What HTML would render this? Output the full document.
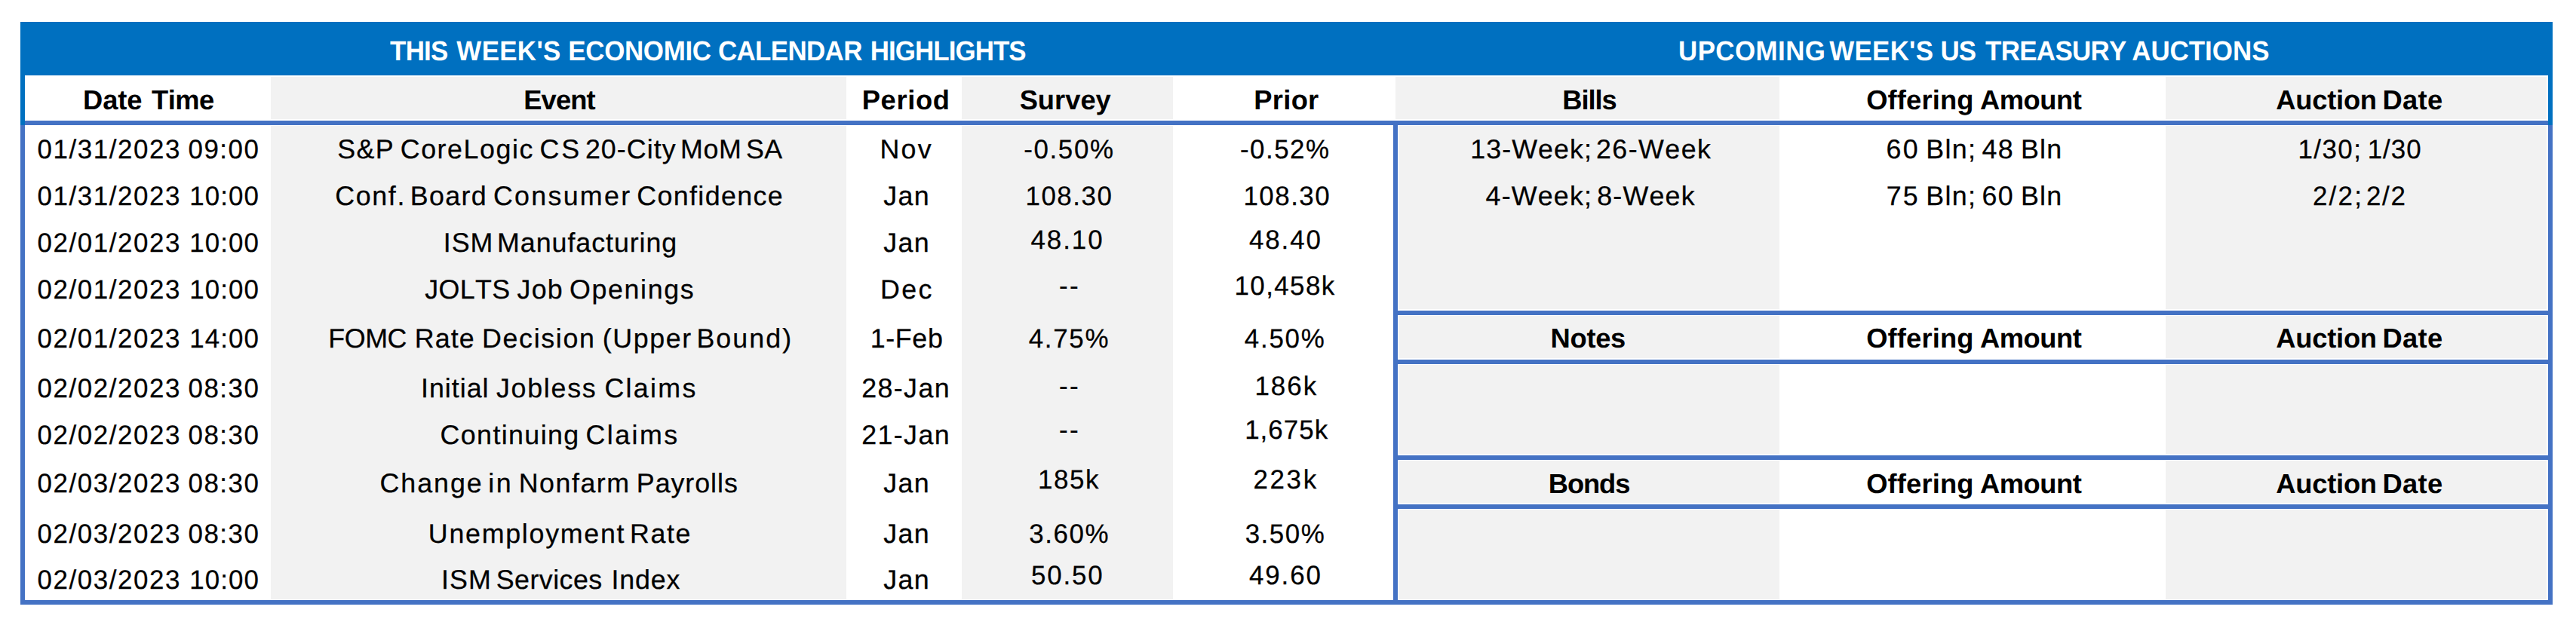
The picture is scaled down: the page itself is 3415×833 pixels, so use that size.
<!DOCTYPE html>
<html lang="en"><head><meta charset="utf-8"><title>Economic Calendar</title>
<style>
html,body{margin:0;padding:0;background:#fff;}
body{width:3415px;height:833px;position:relative;overflow:hidden;font-family:"Liberation Sans",Arial,sans-serif;font-kerning:none;font-variant-ligatures:none;text-rendering:geometricPrecision;}
.r{position:absolute;}
.c{position:absolute;left:0;top:0;width:0;height:40px;white-space:pre;font-size:35.80px;line-height:40px;color:#000;-webkit-text-stroke:0.25px #000;}
.c span{position:absolute;top:0;left:0;}
.b{font-weight:bold;-webkit-text-stroke:0;font-size:36.30px;}
.w{color:#fff;}
.u{font-size:34.90px;}
.u span{transform:scaleY(1.015);transform-origin:0 31px;}
.b.u span{transform:scaleY(1.050);}
</style></head><body>
<div class="r" style="left:359px;top:102px;width:763px;height:56px;background:#F2F2F2"></div>
<div class="r" style="left:359px;top:167px;width:763px;height:628px;background:#F2F2F2"></div>
<div class="r" style="left:1275px;top:102px;width:280px;height:56px;background:#F2F2F2"></div>
<div class="r" style="left:1275px;top:167px;width:280px;height:628px;background:#F2F2F2"></div>
<div class="r" style="left:1850px;top:102px;width:509px;height:56px;background:#F2F2F2"></div>
<div class="r" style="left:1854px;top:167px;width:505px;height:243px;background:#F2F2F2"></div>
<div class="r" style="left:1854px;top:419px;width:505px;height:56px;background:#F2F2F2"></div>
<div class="r" style="left:1854px;top:484px;width:505px;height:118px;background:#F2F2F2"></div>
<div class="r" style="left:1854px;top:611px;width:505px;height:56px;background:#F2F2F2"></div>
<div class="r" style="left:1854px;top:676px;width:505px;height:119px;background:#F2F2F2"></div>
<div class="r" style="left:2871px;top:102px;width:505px;height:56px;background:#F2F2F2"></div>
<div class="r" style="left:2871px;top:167px;width:505px;height:243px;background:#F2F2F2"></div>
<div class="r" style="left:2871px;top:419px;width:505px;height:56px;background:#F2F2F2"></div>
<div class="r" style="left:2871px;top:484px;width:505px;height:118px;background:#F2F2F2"></div>
<div class="r" style="left:2871px;top:611px;width:505px;height:56px;background:#F2F2F2"></div>
<div class="r" style="left:2871px;top:676px;width:505px;height:119px;background:#F2F2F2"></div>
<div class="r" style="left:27px;top:29px;width:3357px;height:71px;background:#0070C0"></div>
<div class="r" style="left:27px;top:100px;width:6px;height:66px;background:#0070C0"></div>
<div class="r" style="left:3378px;top:100px;width:6px;height:66px;background:#0070C0"></div>
<div class="r" style="left:27px;top:166px;width:6px;height:636px;background:#4472C4"></div>
<div class="r" style="left:3378px;top:166px;width:6px;height:636px;background:#4472C4"></div>
<div class="r" style="left:33px;top:160px;width:3345px;height:6px;background:#4472C4"></div>
<div class="r" style="left:27px;top:796px;width:3357px;height:6px;background:#4472C4"></div>
<div class="r" style="left:1847px;top:166px;width:6px;height:630px;background:#4472C4"></div>
<div class="r" style="left:1853px;top:412px;width:1525px;height:6px;background:#4472C4"></div>
<div class="r" style="left:1853px;top:477px;width:1525px;height:6px;background:#4472C4"></div>
<div class="r" style="left:1853px;top:604px;width:1525px;height:6px;background:#4472C4"></div>
<div class="r" style="left:1853px;top:669px;width:1525px;height:6px;background:#4472C4"></div>
<div class="c b w u" style="top:49px"><span style="left:517.11px;letter-spacing:-0.780px">THIS</span> <span style="left:605.37px;letter-spacing:0.344px">WEEK'S</span> <span style="left:753.37px;letter-spacing:-0.323px">ECONOMIC</span> <span style="left:951.97px;letter-spacing:-0.624px">CALENDAR</span> <span style="left:1153.77px;letter-spacing:-0.924px">HIGHLIGHTS</span></div>
<div class="c b w u" style="top:49px"><span style="left:2225.00px;letter-spacing:0.444px">UPCOMING</span> <span style="left:2425.37px;letter-spacing:0.264px">WEEK'S</span> <span style="left:2572.50px;letter-spacing:-0.822px">US</span> <span style="left:2632.11px;letter-spacing:-0.673px">TREASURY</span> <span style="left:2826.23px;letter-spacing:-0.003px">AUCTIONS</span></div>
<div class="c b" style="top:113px"><span style="left:109.97px;letter-spacing:-0.037px">Date</span> <span style="left:200.99px;letter-spacing:-0.492px">Time</span></div>
<div class="c b" style="top:113px"><span style="left:694.27px;letter-spacing:-0.870px">Event</span></div>
<div class="c b" style="top:113px"><span style="left:1142.67px;letter-spacing:0.672px">Period</span></div>
<div class="c b" style="top:113px"><span style="left:1351.65px;letter-spacing:0.013px">Survey</span></div>
<div class="c b" style="top:113px"><span style="left:1662.37px;letter-spacing:0.289px">Prior</span></div>
<div class="c b" style="top:113px"><span style="left:2071.27px;letter-spacing:-1.085px">Bills</span></div>
<div class="c b" style="top:113px"><span style="left:2474.21px;letter-spacing:0.151px">Offering</span> <span style="left:2624.90px;letter-spacing:-0.411px">Amount</span></div>
<div class="c b" style="top:113px"><span style="left:3017.20px;letter-spacing:-0.207px">Auction</span> <span style="left:3158.57px;letter-spacing:0.296px">Date</span></div>
<div class="c b" style="top:429px"><span style="left:2055.57px;letter-spacing:-0.284px">Notes</span></div>
<div class="c b" style="top:429px"><span style="left:2474.21px;letter-spacing:0.151px">Offering</span> <span style="left:2624.90px;letter-spacing:-0.411px">Amount</span></div>
<div class="c b" style="top:429px"><span style="left:3017.20px;letter-spacing:-0.207px">Auction</span> <span style="left:3158.57px;letter-spacing:0.296px">Date</span></div>
<div class="c b" style="top:622px"><span style="left:2052.87px;letter-spacing:-1.102px">Bonds</span></div>
<div class="c b" style="top:622px"><span style="left:2474.21px;letter-spacing:0.151px">Offering</span> <span style="left:2624.90px;letter-spacing:-0.411px">Amount</span></div>
<div class="c b" style="top:622px"><span style="left:3017.20px;letter-spacing:-0.207px">Auction</span> <span style="left:3158.57px;letter-spacing:0.296px">Date</span></div>
<div class="c u" style="top:179px"><span style="left:49.54px;letter-spacing:1.592px">01/31/2023</span> <span style="left:249.54px;letter-spacing:1.498px">09:00</span></div>
<div class="c u" style="top:241px"><span style="left:49.54px;letter-spacing:1.592px">01/31/2023</span> <span style="left:251.24px;letter-spacing:1.072px">10:00</span></div>
<div class="c u" style="top:303px"><span style="left:49.54px;letter-spacing:1.592px">02/01/2023</span> <span style="left:251.24px;letter-spacing:1.072px">10:00</span></div>
<div class="c u" style="top:365px"><span style="left:49.54px;letter-spacing:1.592px">02/01/2023</span> <span style="left:251.24px;letter-spacing:1.072px">10:00</span></div>
<div class="c u" style="top:430px"><span style="left:49.54px;letter-spacing:1.592px">02/01/2023</span> <span style="left:251.24px;letter-spacing:1.072px">14:00</span></div>
<div class="c u" style="top:496px"><span style="left:49.54px;letter-spacing:1.592px">02/02/2023</span> <span style="left:249.54px;letter-spacing:1.498px">08:30</span></div>
<div class="c u" style="top:558px"><span style="left:49.54px;letter-spacing:1.592px">02/02/2023</span> <span style="left:249.54px;letter-spacing:1.498px">08:30</span></div>
<div class="c u" style="top:622px"><span style="left:49.54px;letter-spacing:1.592px">02/03/2023</span> <span style="left:249.54px;letter-spacing:1.498px">08:30</span></div>
<div class="c u" style="top:689px"><span style="left:49.54px;letter-spacing:1.592px">02/03/2023</span> <span style="left:249.54px;letter-spacing:1.498px">08:30</span></div>
<div class="c u" style="top:750px"><span style="left:49.54px;letter-spacing:1.592px">02/03/2023</span> <span style="left:251.24px;letter-spacing:1.072px">10:00</span></div>
<div class="c" style="top:178px"><span style="left:447.37px;letter-spacing:1.289px">S&amp;P</span> <span style="left:530.78px;letter-spacing:1.548px">CoreLogic</span> <span style="left:715.58px;letter-spacing:2.829px">CS</span> <span style="left:775.90px;letter-spacing:1.062px">20-City</span> <span style="left:902.06px;letter-spacing:0.660px">MoM</span> <span style="left:989.07px;letter-spacing:0.239px">SA</span></div>
<div class="c" style="top:240px"><span style="left:444.28px;letter-spacing:1.630px">Conf.</span> <span style="left:543.86px;letter-spacing:1.328px">Board</span> <span style="left:653.98px;letter-spacing:2.282px">Consumer</span> <span style="left:844.18px;letter-spacing:1.388px">Confidence</span></div>
<div class="c" style="top:302px"><span style="left:587.70px;letter-spacing:1.047px">ISM</span> <span style="left:659.06px;letter-spacing:0.949px">Manufacturing</span></div>
<div class="c" style="top:364px"><span style="left:563.34px;letter-spacing:0.375px">JOLTS</span> <span style="left:685.54px;letter-spacing:1.221px">Job</span> <span style="left:755.10px;letter-spacing:1.605px">Openings</span></div>
<div class="c" style="top:429px"><span style="left:435.36px;letter-spacing:-0.463px">FOMC</span> <span style="left:549.76px;letter-spacing:1.136px">Rate</span> <span style="left:638.96px;letter-spacing:1.681px">Decision</span> <span style="left:798.78px;letter-spacing:1.617px">(Upper</span> <span style="left:923.46px;letter-spacing:2.043px">Bound)</span></div>
<div class="c" style="top:495px"><span style="left:558.00px;letter-spacing:0.987px">Initial</span> <span style="left:657.94px;letter-spacing:1.728px">Jobless</span> <span style="left:801.38px;letter-spacing:2.304px">Claims</span></div>
<div class="c" style="top:557px"><span style="left:583.58px;letter-spacing:1.384px">Continuing</span> <span style="left:776.38px;letter-spacing:2.484px">Claims</span></div>
<div class="c" style="top:621px"><span style="left:503.48px;letter-spacing:1.961px">Change</span> <span style="left:647.31px;letter-spacing:2.556px">in</span> <span style="left:687.76px;letter-spacing:1.520px">Nonfarm</span> <span style="left:843.86px;letter-spacing:0.943px">Payrolls</span></div>
<div class="c" style="top:688px"><span style="left:567.84px;letter-spacing:1.724px">Unemployment</span> <span style="left:835.06px;letter-spacing:1.569px">Rate</span></div>
<div class="c" style="top:749px"><span style="left:585.00px;letter-spacing:1.047px">ISM</span> <span style="left:657.67px;letter-spacing:0.478px">Services</span> <span style="left:810.60px;letter-spacing:0.778px">Index</span></div>
<div class="c" style="top:178px"><span style="left:1166.56px;letter-spacing:2.198px">Nov</span></div>
<div class="c" style="top:240px"><span style="left:1171.14px;letter-spacing:1.432px">Jan</span></div>
<div class="c" style="top:302px"><span style="left:1171.14px;letter-spacing:1.432px">Jan</span></div>
<div class="c" style="top:364px"><span style="left:1167.06px;letter-spacing:2.358px">Dec</span></div>
<div class="c" style="top:429px"><span style="left:1153.77px;letter-spacing:0.627px">1-Feb</span></div>
<div class="c" style="top:495px"><span style="left:1142.20px;letter-spacing:1.393px">28-Jan</span></div>
<div class="c" style="top:557px"><span style="left:1142.20px;letter-spacing:1.393px">21-Jan</span></div>
<div class="c" style="top:621px"><span style="left:1171.14px;letter-spacing:1.432px">Jan</span></div>
<div class="c" style="top:688px"><span style="left:1171.14px;letter-spacing:1.432px">Jan</span></div>
<div class="c" style="top:749px"><span style="left:1171.14px;letter-spacing:1.432px">Jan</span></div>
<div class="c u" style="top:179px"><span style="left:1357.35px;letter-spacing:1.603px">-0.50%</span></div>
<div class="c u" style="top:241px"><span style="left:1359.54px;letter-spacing:1.515px">108.30</span></div>
<div class="c u" style="top:299px"><span style="left:1366.50px;letter-spacing:1.957px">48.10</span></div>
<div class="c u" style="top:360px"><span style="left:1403.95px;letter-spacing:2.458px">--</span></div>
<div class="c u" style="top:430px"><span style="left:1363.70px;letter-spacing:1.697px">4.75%</span></div>
<div class="c u" style="top:493px"><span style="left:1403.95px;letter-spacing:2.458px">--</span></div>
<div class="c u" style="top:551px"><span style="left:1403.95px;letter-spacing:2.458px">--</span></div>
<div class="c u" style="top:617px"><span style="left:1375.94px;letter-spacing:1.576px">185k</span></div>
<div class="c u" style="top:689px"><span style="left:1364.27px;letter-spacing:1.554px">3.60%</span></div>
<div class="c u" style="top:744px"><span style="left:1367.10px;letter-spacing:1.806px">50.50</span></div>
<div class="c u" style="top:179px"><span style="left:1643.95px;letter-spacing:1.503px">-0.52%</span></div>
<div class="c u" style="top:241px"><span style="left:1648.44px;letter-spacing:1.495px">108.30</span></div>
<div class="c u" style="top:299px"><span style="left:1656.00px;letter-spacing:1.882px">48.40</span></div>
<div class="c u" style="top:360px"><span style="left:1636.54px;letter-spacing:1.419px">10,458k</span></div>
<div class="c u" style="top:430px"><span style="left:1649.70px;letter-spacing:1.797px">4.50%</span></div>
<div class="c u" style="top:493px"><span style="left:1663.44px;letter-spacing:2.009px">186k</span></div>
<div class="c u" style="top:551px"><span style="left:1650.14px;letter-spacing:1.044px">1,675k</span></div>
<div class="c u" style="top:617px"><span style="left:1661.54px;letter-spacing:2.642px">223k</span></div>
<div class="c u" style="top:689px"><span style="left:1650.67px;letter-spacing:1.554px">3.50%</span></div>
<div class="c u" style="top:744px"><span style="left:1656.00px;letter-spacing:1.882px">49.60</span></div>
<div class="c" style="top:178px"><span style="left:1949.17px;letter-spacing:1.092px">13-Week;</span> <span style="left:2115.90px;letter-spacing:1.466px">26-Week</span></div>
<div class="c" style="top:240px"><span style="left:1969.58px;letter-spacing:1.192px">4-Week;</span> <span style="left:2117.14px;letter-spacing:1.232px">8-Week</span></div>
<div class="c" style="top:178px"><span style="left:2500.48px;letter-spacing:2.296px">60</span> <span style="left:2553.16px;letter-spacing:1.388px">Bln;</span> <span style="left:2627.38px;letter-spacing:1.557px">48</span> <span style="left:2678.96px;letter-spacing:1.260px">Bln</span></div>
<div class="c" style="top:240px"><span style="left:2500.86px;letter-spacing:2.018px">75</span> <span style="left:2553.16px;letter-spacing:1.388px">Bln;</span> <span style="left:2627.38px;letter-spacing:1.396px">60</span> <span style="left:2678.96px;letter-spacing:1.260px">Bln</span></div>
<div class="c u" style="top:179px"><span style="left:3046.44px;letter-spacing:1.468px">1/30;</span> <span style="left:3138.64px;letter-spacing:1.065px">1/30</span></div>
<div class="c u" style="top:241px"><span style="left:3065.94px;letter-spacing:2.260px">2/2;</span> <span style="left:3136.94px;letter-spacing:1.697px">2/2</span></div>
</body></html>
